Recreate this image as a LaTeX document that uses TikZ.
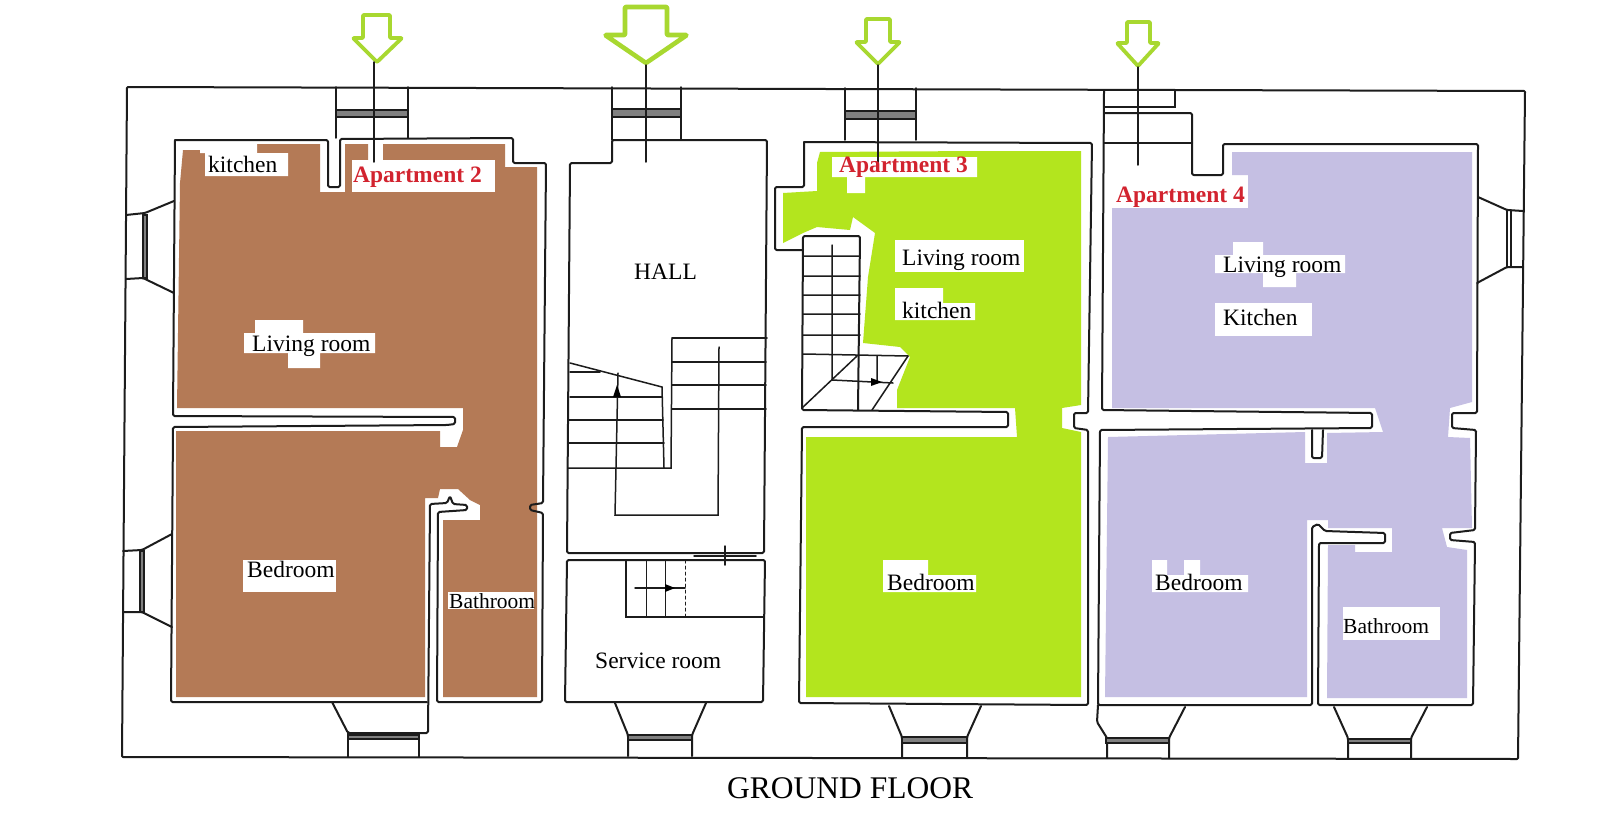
\documentclass[tikz,border=0pt]{standalone}
\usepackage{fontspec}
\setmainfont{Liberation Serif}
\definecolor{brownfill}{HTML}{B47A56}
\definecolor{greenfill}{HTML}{B3E51E}
\definecolor{lavfill}{HTML}{C5BFE3}
\definecolor{arrowgreen}{HTML}{A8D830}
\definecolor{aptred}{HTML}{D2232F}
\definecolor{wallink}{HTML}{1C1C1C}
\tikzset{
  wall/.style={draw=wallink,line width=2pt,line join=round,line cap=round,rounded corners=1.5pt},
  thin wall/.style={draw=wallink,line width=1.5pt,line cap=round},
  glass/.style={fill=black!50,draw=wallink,line width=1.2pt},
  entry/.style={draw=arrowgreen,fill=white,line join=round,rounded corners=0.8pt},
  lbl/.style={anchor=base west,inner sep=0pt,text=black,font=\fontsize{23.5}{28}\selectfont},
  small lbl/.style={lbl,font=\fontsize{21.5}{26}\selectfont},
  apt/.style={lbl,text=aptred,font=\fontsize{23.5}{28}\selectfont\bfseries},
  title lbl/.style={lbl,font=\fontsize{31.5}{36}\selectfont}
}
\begin{document}
\begin{tikzpicture}[x=1pt,y=-1pt]
\useasboundingbox (0,0) rectangle (1600,827);
\fill[white] (0,0) rectangle (1600,827);

% ---------- floor fills ----------
\fill[brownfill] (183,150)--(257,150)--(257,144)--(320,144)--(320,192)--(345,192)--(345,144)--(368,144)--(368,160)--(383,160)--(383,144)--(505,144)--(505,167)--(537,167)--(537,697)--(443,697)--(443,520)--(480,520)--(480,505)--(470,500)--(458,489)--(440,489)--(438,498)--(425,498)--(425,697)--(176,697)--(176,431)--(440,431)--(440,447)--(457,447)--(463,430)--(463,408)--(177,408)--(180,183)--cycle;
\fill[greenfill] (820,152)--(977,151)--(1081,151)--(1081,405)--(1062,408)--(1062,428)--(1081,432)--(1081,697)--(806,697)--(806,437)--(1017,437)--(1015,408)--(897,408)--(897,390)--(910,357)--(900,347)--(863,343)--(868,277)--(875,233)--(853,217)--(850,230)--(817,227)--(803,233)--(783,243)--(783,193)--(817,191)--(817,163)--cycle;
\fill[lavfill] (1232,152)--(1472,152)--(1472,402)--(1450,408)--(1448,437)--(1470,438)--(1472,528)--(1442,528)--(1447,547)--(1467,550)--(1467,698)--(1327,698)--(1328,545)--(1355,545)--(1355,552)--(1392,552)--(1392,528)--(1328,528)--(1328,520)--(1307,520)--(1307,697)--(1105,697)--(1108,437)--(1305,432)--(1305,463)--(1327,463)--(1327,433)--(1383,432)--(1375,408)--(1112,408)--(1112,208)--(1248,208)--(1248,175)--(1232,175)--cycle;

% ---------- white label patches ----------
\fill[white] (200,144) rectangle (257,153) (205,153) rectangle (288,176);
\fill[white] (352,160) rectangle (495,192);
\fill[white] (244,333) rectangle (375,353) (255,320) rectangle (303,333) (288,353) rectangle (320,368);
\fill[white] (243,560) rectangle (336,592);
\fill[white] (448,592) rectangle (534,609);
\fill[white] (832,157) rectangle (977,177) (847,177) rectangle (865,193);
\fill[white] (895,240) rectangle (1024,272);
\fill[white] (895,303) rectangle (975,320) (895,288) rectangle (943,303);
\fill[white] (883,575) rectangle (976,592) (883,560) rectangle (928,575);
\fill[white] (1215,255) rectangle (1345,273) (1263,273) rectangle (1296,287) (1233,242) rectangle (1263,255);
\fill[white] (1215,303) rectangle (1312,336);
\fill[white] (1152,575) rectangle (1248,592) (1152,560) rectangle (1167,575) (1184,560) rectangle (1200,575);
\fill[white] (1343,607) rectangle (1440,640);

% ---------- outer wall ----------
\draw[wall,rounded corners=1pt] (127,87)--(1525,91)--(1518,759)--(122,757)--cycle;

% ---------- apartment 2 walls ----------
\draw[wall] (175,140)--(328,140)--(328,187)--(340,187)--(340,139)--(513,138)--(513,163)--(546,163)--(543,503)--(530,505)--(530,510)--(543,513)--(542,702)--(437,702)--(438,512)--(467,510)--(467,505)--(453,504)--(450,496)--(447,503)--(430,504)--(428,733)--(348,733)--(332,702);
\draw[wall] (427,702)--(171,702)--(173,427)--(447,425)--(455,424)--(455,417)--(173,416)--(175,140);
% apartment 2 windows
\draw[wall] (174,201)--(145,213)--(126,215) (174,293)--(143,278)--(126,279);
\fill[glass] (143,215) rectangle (147,278);
\draw[wall] (172,534)--(142,550)--(123,551) (172,627)--(142,612)--(123,612);
\fill[glass] (140,551) rectangle (144,612);
\draw[thin wall] (336,87)--(336,138) (408,87)--(408,138);
\fill[glass] (336,110) rectangle (408,117);
\fill[glass] (348,735) rectangle (419,739);
\draw[thin wall] (348,733)--(348,757) (419,739)--(419,757);

% ---------- hall walls ----------
\draw[wall] (570,163)--(612,163)--(612,140)--(767,140)--(764,553)--(567,553)--cycle;
\draw[wall] (567,560)--(765,560)--(763,702)--(565,702)--cycle;
\draw[thin wall] (612,87)--(612,140) (681,87)--(681,140);
\fill[glass] (612,109) rectangle (681,117);
\draw[thin wall] (694,556)--(756,556);
\draw[thin wall] (725,546)--(725,565);
\draw[wall] (615,703)--(628,735)--(628,756) (706,703)--(692,735)--(692,756);
\fill[glass] (628,735) rectangle (692,740);
% hall stairs
\draw[thin wall] (672,338)--(767,338) (672,362)--(766,362) (672,385)--(766,385) (672,409)--(766,409);
\draw[thin wall] (672,338)--(671,468)--(568,468);
\draw[thin wall] (570,363)--(662,387)--(664,468);
\draw[thin wall] (570,372)--(600,372) (570,397)--(662,397) (569,420)--(663,420) (568,443)--(664,443);
\draw[thin wall] (618,373)--(615,515)--(718,515)--(719,347);
\fill[black] (617,385) -- (621,397) -- (613,397) -- cycle;
% service stairs
\draw[thin wall] (626,560)--(626,617)--(763,617);
\draw[thin wall,line width=1pt] (646,560)--(646,617) (665,560)--(665,617);
\draw[thin wall,line width=1pt,dashed] (685,560)--(685,617);
\draw[thin wall] (635,588)--(685,588);
\fill[black] (675,588) -- (665,584) -- (665,592) -- cycle;

% ---------- apartment 3 walls ----------
\draw[wall] (804,142)--(1092,143)--(1088,413)--(1074,413)--(1074,428)--(1088,430)--(1088,705)--(799,703)--(802,427)--(1008,427)--(1008,412)--(802,410)--(803,236)--(860,236)--(858,410);
\draw[wall] (804,142)--(804,187)--(775,187)--(775,250)--(803,250);
\draw[thin wall] (845,88)--(845,140) (916,88)--(916,140);
\fill[glass] (845,111) rectangle (916,119);
\draw[wall] (889,706)--(902,737)--(902,758) (981,706)--(967,737)--(967,758);
\fill[glass] (902,737) rectangle (967,743);
% apartment 3 stairs
\draw[thin wall] (803,256)--(860,256) (803,276)--(860,276) (803,295)--(860,295) (803,314)--(860,314) (803,335)--(860,335) (803,354)--(908,356);
\draw[thin wall] (832,245)--(832,380)--(893,383);
\draw[thin wall] (802,408)--(857,356) (908,356)--(872,410) (877,356)--(877,383);
\fill[black] (882,382) -- (871,378) -- (871,386) -- cycle;

% ---------- apartment 4 walls ----------
\draw[wall] (1104,91)--(1102,410)--(1372,413)--(1372,428)--(1100,430)--(1098,705)--(1312,705)--(1312,527)--(1318,524)--(1325,531)--(1385,533)--(1385,543)--(1319,543)--(1318,705)--(1473,705)--(1475,542)--(1450,540)--(1450,533)--(1475,530)--(1476,430)--(1452,428)--(1452,413)--(1477,413)--(1478,144)--(1223,144)--(1223,175)--(1192,175)--(1192,113)--(1104,113);
\draw[wall] (1104,143)--(1192,143);
\draw[wall] (1312,430)--(1312,458)--(1322,458)--(1323,430);
\draw[thin wall] (1104,107)--(1175,107)--(1175,91);
\draw[wall] (1478,197)--(1507,210)--(1523,211) (1477,283)--(1507,267)--(1523,267);
\draw[thin wall] (1507,210)--(1507,267) (1511,210)--(1511,267);
\draw[wall] (1098,705)--(1097,722)--(1107,738)--(1107,758) (1185,707)--(1169,738)--(1169,758);
\fill[glass] (1106,738) rectangle (1169,743);
\draw[wall] (1334,707)--(1348,738)--(1348,758) (1427,707)--(1411,738)--(1411,758);
\fill[glass] (1348,739) rectangle (1411,743);

% ---------- entry arrows ----------
\draw[entry,line width=3.8pt] (363,15)--(390,15)--(390,38)--(402,38)--(377,62)--(353,38)--(363,38)--cycle;
\draw[entry,line width=4.6pt] (625,7)--(667,7)--(667,35)--(687,35)--(646,63)--(605,35)--(625,35)--cycle;
\draw[entry,line width=3.8pt] (866,19)--(890,19)--(890,42)--(900,42)--(878,64)--(856,42)--(866,42)--cycle;
\draw[entry,line width=3.8pt] (1127,22)--(1150,22)--(1150,43)--(1159,43)--(1138,66)--(1117,43)--(1127,43)--cycle;
% entry axes
\draw[thin wall] (374,62)--(374,162);
\draw[thin wall] (646,65)--(646,162);
\draw[thin wall] (878,65)--(878,163);
\draw[thin wall] (1138,67)--(1138,165);

% ---------- labels ----------
\node[lbl] (k2) at (208,172) {kitchen};
\node[apt] (a2) at (353,182) {Apartment 2};
\node[lbl] (l2) at (252,351) {Living room};
\node[lbl] (b2) at (247,577) {Bedroom};
\node[small lbl] (w2) at (449,608) {Bathroom};
\node[lbl] (hall) at (634,279) {HALL};
\node[lbl] (serv) at (595,668) {Service room};
\node[apt] (a3) at (839,172) {Apartment 3};
\node[lbl] (l3) at (902,265) {Living room};
\node[lbl] (k3) at (902,318) {kitchen};
\node[lbl] (b3) at (887,590) {Bedroom};
\node[apt] (a4) at (1116,202) {Apartment 4};
\node[lbl] (l4) at (1223,272) {Living room};
\node[lbl] (k4) at (1223,325) {Kitchen};
\node[lbl] (b4) at (1155,590) {Bedroom};
\node[small lbl] (w4) at (1343,633) {Bathroom};
\node[title lbl] (gf) at (727,798) {GROUND FLOOR};
\end{tikzpicture}
\end{document}
